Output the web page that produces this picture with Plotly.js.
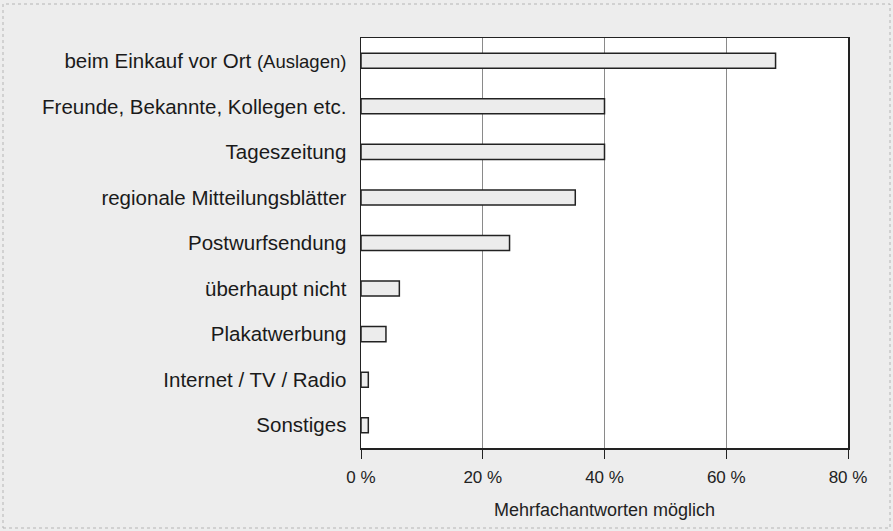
<!DOCTYPE html>
<html>
<head>
<meta charset="utf-8">
<script src="https://cdn.plot.ly/plotly-3.0.1.min.js"></script>
<style>html,body{margin:0;padding:0;background:#ededed;}</style>
</head>
<body>
<div id="chart" style="width:893px;height:531px;"></div>
<script>
const categories = [
  "beim Einkauf vor Ort <span style='font-size:18.5px'>(Auslagen)</span>",
  "Freunde, Bekannte, Kollegen etc.",
  "Tageszeitung",
  "regionale Mitteilungsblätter",
  "Postwurfsendung",
  "überhaupt nicht",
  "Plakatwerbung",
  "Internet / TV / Radio",
  "Sonstiges"
];
const values = [68.1, 40.0, 40.0, 35.2, 24.4, 6.3, 4.1, 1.2, 1.2];
const tickVals = [0, 20, 40, 60, 80];
const tickText = ["0 %", "20 %", "40 %", "60 %", "80 %"];
const xTitle = "Mehrfachantworten möglich";

const trace = {
  type: 'bar',
  orientation: 'h',
  y: categories,
  x: values,
  width: 0.33,
  marker: {color: '#ececec', line: {color: '#222', width: 1.5}},
  hoverinfo: 'skip'
};

const layout = {
  width: 893, height: 531,
  margin: {l: 361, r: 45, t: 38, b: 83},
  paper_bgcolor: '#ededed',
  plot_bgcolor: '#ffffff',
  font: {family: 'Liberation Sans, Arial, sans-serif', color: '#1a1a1a'},
  showlegend: false,
  bargap: 0.67,
  xaxis: {
    range: [0, 80],
    tickvals: tickVals,
    ticktext: tickText,
    ticks: 'outside', ticklen: 9, tickwidth: 1, tickcolor: '#222',
    showgrid: true, gridcolor: '#8a8a8a', gridwidth: 1,
    showline: true, linecolor: '#222', linewidth: 1.5, mirror: true,
    zeroline: false,
    ticklabelstandoff: 4,
    tickfont: {size: 17, color: '#222'},
    title: {text: xTitle, font: {size: 18, color: '#222'}, standoff: 17}
  },
  yaxis: {
    autorange: 'reversed',
    type: 'category',
    showline: true, linecolor: '#222', linewidth: 1.5, mirror: true,
    showgrid: false, zeroline: false,
    ticks: '',
    ticklabelstandoff: 9,
    tickfont: {size: 20.5, color: '#1a1a1a'}
  },
  shapes: [{
    type: 'rect', xref: 'paper', yref: 'paper',
    x0: (3 - 361) / 487, x1: (890 - 361) / 487,
    y0: (448 - 528) / 410, y1: (448 - 4) / 410,
    line: {color: '#b5b5b5', width: 1, dash: 'dot'},
    layer: 'below'
  }]
};

Plotly.newPlot('chart', [trace], layout, {displayModeBar: false, staticPlot: true});
</script>
</body>
</html>
